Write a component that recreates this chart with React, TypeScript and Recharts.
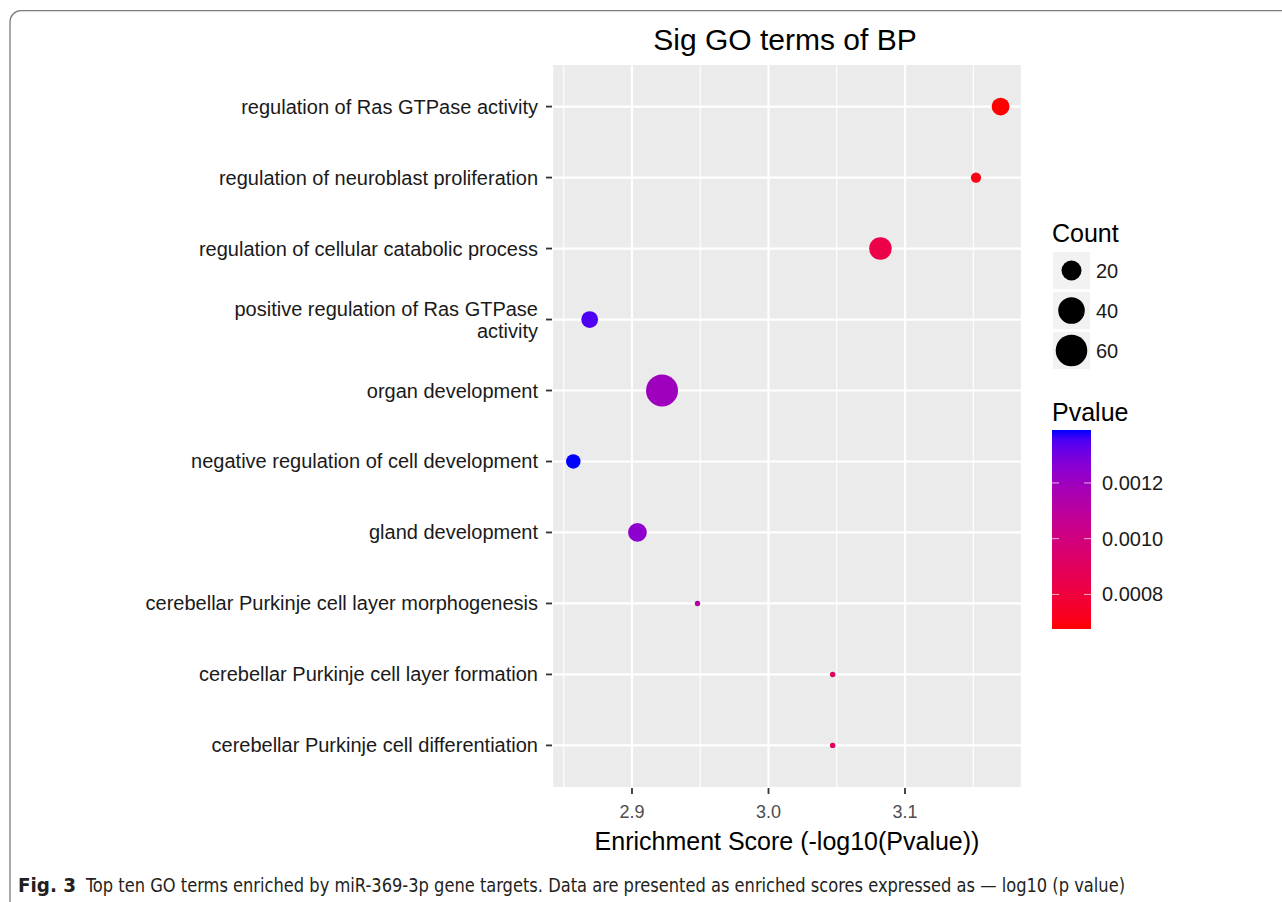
import React from 'react';
import { ScatterChart, Scatter, XAxis, YAxis, CartesianGrid } from 'recharts';

// ---------- data ----------
const terms: string[] = [
  'regulation of Ras GTPase activity',
  'regulation of neuroblast proliferation',
  'regulation of cellular catabolic process',
  'positive regulation of Ras GTPase\nactivity',
  'organ development',
  'negative regulation of cell development',
  'gland development',
  'cerebellar Purkinje cell layer morphogenesis',
  'cerebellar Purkinje cell layer formation',
  'cerebellar Purkinje cell differentiation',
];
const scores: number[] = [3.170, 3.152, 3.082, 2.869, 2.922, 2.857, 2.904, 2.948, 3.047, 3.047];
const pvalues: number[] = [0.000676, 0.000705, 0.000828, 0.001352, 0.001197, 0.00139, 0.001247, 0.001127, 0.000897, 0.000897];
const counts: number[] = [15, 4, 27, 13, 62, 9, 17, 2, 2, 2];

const xDomain: number[] = [2.8414, 3.1857];
const xTicks: number[] = [2.9, 3.0, 3.1];
const xMinorTicks: number[] = [2.85, 2.95, 3.05, 3.15];
const countBreaks: number[] = [20, 40, 60];
const pBreaks: number[] = [0.0012, 0.001, 0.0008];
const pBreakLabels: string[] = ['0.0012', '0.0010', '0.0008'];

const titleText = 'Sig GO terms of BP';
const xTitle = 'Enrichment Score (-log10(Pvalue))';
const sizeTitle = 'Count';
const colorTitle = 'Pvalue';
const captionBold = 'Fig. 3';
const captionText = 'Top ten GO terms enriched by miR-369-3p gene targets. Data are presented as enriched scores expressed as \u2014 log10 (p value)';

const data = terms.map((term, i) => ({
  term,
  row: i + 1,
  score: scores[i],
  pvalue: pvalues[i],
  count: counts[i],
}));

// ---------- scales (ggplot-like) ----------
const FONT = '"Liberation Sans", Arial, Helvetica, sans-serif';

const sToLin = (c: number) => {
  const v = c / 255;
  return v <= 0.04045 ? v / 12.92 : Math.pow((v + 0.055) / 1.055, 2.4);
};
const linToS = (c: number) => {
  const v = c <= 0.0031308 ? 12.92 * c : 1.055 * Math.pow(c, 1 / 2.4) - 0.055;
  return Math.round(Math.max(0, Math.min(1, v)) * 255);
};
const Xn = 0.95047, Yn = 1.0, Zn = 1.08883;
const fL = (t: number) => (t > 0.008856 ? Math.cbrt(t) : 7.787 * t + 16 / 116);
const fInv = (t: number) => (t > 0.206893 ? t * t * t : (t - 16 / 116) / 7.787);
const rgbToLab = (rgb: number[]) => {
  const R = sToLin(rgb[0]), G = sToLin(rgb[1]), B = sToLin(rgb[2]);
  const X = 0.4124 * R + 0.3576 * G + 0.1805 * B;
  const Y = 0.2126 * R + 0.7152 * G + 0.0722 * B;
  const Z = 0.0193 * R + 0.1192 * G + 0.9505 * B;
  const fx = fL(X / Xn), fy = fL(Y / Yn), fz = fL(Z / Zn);
  return [116 * fy - 16, 500 * (fx - fy), 200 * (fy - fz)];
};
const labToRgb = (lab: number[]) => {
  const fy = (lab[0] + 16) / 116;
  const fx = fy + lab[1] / 500;
  const fz = fy - lab[2] / 200;
  const X = Xn * fInv(fx), Y = Yn * fInv(fy), Z = Zn * fInv(fz);
  const R = 3.2406 * X - 1.5372 * Y - 0.4986 * Z;
  const G = -0.9689 * X + 1.8758 * Y + 0.0415 * Z;
  const B = 0.0557 * X - 0.204 * Y + 1.057 * Z;
  return `rgb(${linToS(R)},${linToS(G)},${linToS(B)})`;
};
const lowLab = rgbToLab([255, 0, 0]);
const highLab = rgbToLab([0, 0, 255]);
const pMin = Math.min(...pvalues);
const pMax = Math.max(...pvalues);
const colorFor = (p: number) => {
  const t = Math.max(0, Math.min(1, (p - pMin) / (pMax - pMin)));
  return labToRgb([0, 1, 2].map((k) => lowLab[k] + (highLab[k] - lowLab[k]) * t));
};

const cMin = Math.min(...counts);
const cMax = Math.max(...counts);
const radiusFor = (c: number) => {
  const t = Math.max(0, (c - cMin) / (cMax - cMin));
  return (5.4 + 26.6 * Math.sqrt(t)) / 2;
};

// ---------- layout ----------
const W = 1282;
const H = 902;
const PANEL_LEFT = 552;
const PANEL_RIGHT = 1022;
const PANEL_TOP = 64;
const PANEL_BOTTOM = 788;
const PANEL_CX = (PANEL_LEFT + PANEL_RIGHT) / 2;

const YTick = (props: any) => {
  const { x, y, payload } = props;
  const label = terms[payload.value - 1] || '';
  const lines = label.split('\n');
  const lh = 22;
  const start = -((lines.length - 1) * lh) / 2;
  return (
    <text x={x} y={y} textAnchor="end" fontSize={20} fill="#1a1a1a" fontFamily={FONT}>
      {lines.map((l, i) => (
        <tspan key={i} x={x} y={y + start + i * lh} dy="0.35em">
          {l}
        </tspan>
      ))}
    </text>
  );
};

const XTick = (props: any) => {
  const { x, y, payload } = props;
  return (
    <text x={x} y={y + 24} textAnchor="middle" fontSize={18} fill="#4d4d4d" fontFamily={FONT}>
      {Number(payload.value).toFixed(1)}
    </text>
  );
};

const Dot = (props: any) => {
  const { cx, cy, payload } = props;
  if (cx == null || cy == null) return <g />;
  return <circle cx={cx} cy={cy} r={radiusFor(payload.count)} fill={colorFor(payload.pvalue)} />;
};

const minorGen = (args: any) => {
  const xAxis = args && args.xAxis;
  if (xAxis && typeof xAxis.scale === 'function') {
    return xMinorTicks.map((v) => xAxis.scale(v));
  }
  const off = (args && args.offset) || { left: PANEL_LEFT, width: PANEL_RIGHT - PANEL_LEFT };
  return xMinorTicks.map((v) => off.left + ((v - xDomain[0]) / (xDomain[1] - xDomain[0])) * off.width);
};

const Overlay = () => {
  const barX = 1052;
  const barTop = 430;
  const barH = 199;
  const barW = 39;
  const stops = Array.from({ length: 21 }, (_, i) => i / 20);
  const keyTops = [252, 292, 332];
  return (
    <svg
      width={W}
      height={H}
      style={{ position: 'absolute', left: 0, top: 0, pointerEvents: 'none' }}
      fontFamily={FONT}
    >
      <defs>
        <linearGradient id="pgrad" x1="0" y1="0" x2="0" y2="1">
          {stops.map((s, i) => (
            <stop key={i} offset={s} stopColor={colorFor(pMax - s * (pMax - pMin))} />
          ))}
        </linearGradient>
      </defs>
      {/* frame */}
      <rect x={10} y={10.7} width={1400} height={1000} rx={11} fill="none" stroke="#7a7a7a" strokeWidth={1.3} />
      {/* title */}
      <text x={PANEL_CX - 2} y={50} textAnchor="middle" fontSize={30} fill="#000">
        {titleText}
      </text>
      {/* x title */}
      <text x={PANEL_CX} y={850} textAnchor="middle" fontSize={25} fill="#000">
        {xTitle}
      </text>
      {/* size legend */}
      <text x={1052} y={242} fontSize={25} fill="#000">
        {sizeTitle}
      </text>
      {countBreaks.map((c, i) => (
        <g key={c}>
          <rect x={1053} y={keyTops[i]} width={37} height={37} fill="#f2f2f2" />
          <circle cx={1071.5} cy={keyTops[i] + 18.5} r={radiusFor(c)} fill="#000" />
          <text x={1096} y={keyTops[i] + 18.5 + 7} fontSize={20} fill="#1a1a1a">
            {c}
          </text>
        </g>
      ))}
      {/* color legend */}
      <text x={1052} y={421} fontSize={25} fill="#000">
        {colorTitle}
      </text>
      <rect x={barX} y={barTop} width={barW} height={barH} fill="url(#pgrad)" />
      {pBreaks.map((p, i) => {
        const y = barTop + ((pMax - p) / (pMax - pMin)) * barH;
        return (
          <g key={i}>
            <line x1={barX} x2={barX + 7} y1={y} y2={y} stroke="#ffffff" strokeOpacity={0.7} strokeWidth={1} />
            <line x1={barX + barW - 7} x2={barX + barW} y1={y} y2={y} stroke="#ffffff" strokeOpacity={0.7} strokeWidth={1} />
            <text x={1102} y={y + 7} fontSize={20} fill="#1a1a1a">
              {pBreakLabels[i]}
            </text>
          </g>
        );
      })}
      {/* caption */}
      <text
        x={18}
        y={892}
        fontSize={19}
        fill="#231f20"
        fontWeight="bold"
        fontFamily='"Liberation Sans Narrow", "DejaVu Sans Condensed", "Liberation Sans", sans-serif'
        textLength={58}
        lengthAdjust="spacingAndGlyphs"
      >
        {captionBold}
      </text>
      <text
        x={86}
        y={892}
        fontSize={19}
        fill="#231f20"
        fontFamily='"Liberation Sans Narrow", "DejaVu Sans Condensed", "Liberation Sans", sans-serif'
        textLength={1039}
        lengthAdjust="spacingAndGlyphs"
      >
        {captionText}
      </text>
    </svg>
  );
};

export default function App() {
  return (
    <div style={{ position: 'absolute', left: 0, top: 0, width: W, height: H, background: '#fff', fontFamily: FONT }}>
      <ScatterChart
        width={W}
        height={H}
        margin={{ top: PANEL_TOP, right: W - PANEL_RIGHT, bottom: 0, left: 0 }}
      >
        <CartesianGrid
          fill="#ebebeb"
          stroke="#ffffff"
          strokeWidth={1.1}
          horizontal={false}
          verticalCoordinatesGenerator={minorGen}
        />
        <CartesianGrid stroke="#ffffff" strokeWidth={2.2} />
        <XAxis
          type="number"
          dataKey="score"
          domain={xDomain}
          allowDataOverflow
          ticks={xTicks}
          interval={0}
          height={H - PANEL_BOTTOM}
          axisLine={false}
          tickSize={6}
          tickMargin={0}
          tickLine={{ stroke: '#333333', strokeWidth: 1.8 }}
          tick={<XTick />}
        />
        <YAxis
          type="number"
          dataKey="row"
          domain={[0.4, 10.6]}
          reversed
          allowDataOverflow
          ticks={terms.map((_, i) => i + 1)}
          interval={0}
          width={PANEL_LEFT}
          axisLine={false}
          tickSize={6}
          tickMargin={8}
          tickLine={{ stroke: '#333333', strokeWidth: 1.8 }}
          tick={<YTick />}
        />
        <Scatter data={data} isAnimationActive={false} shape={Dot} />
      </ScatterChart>
      <Overlay />
    </div>
  );
}
